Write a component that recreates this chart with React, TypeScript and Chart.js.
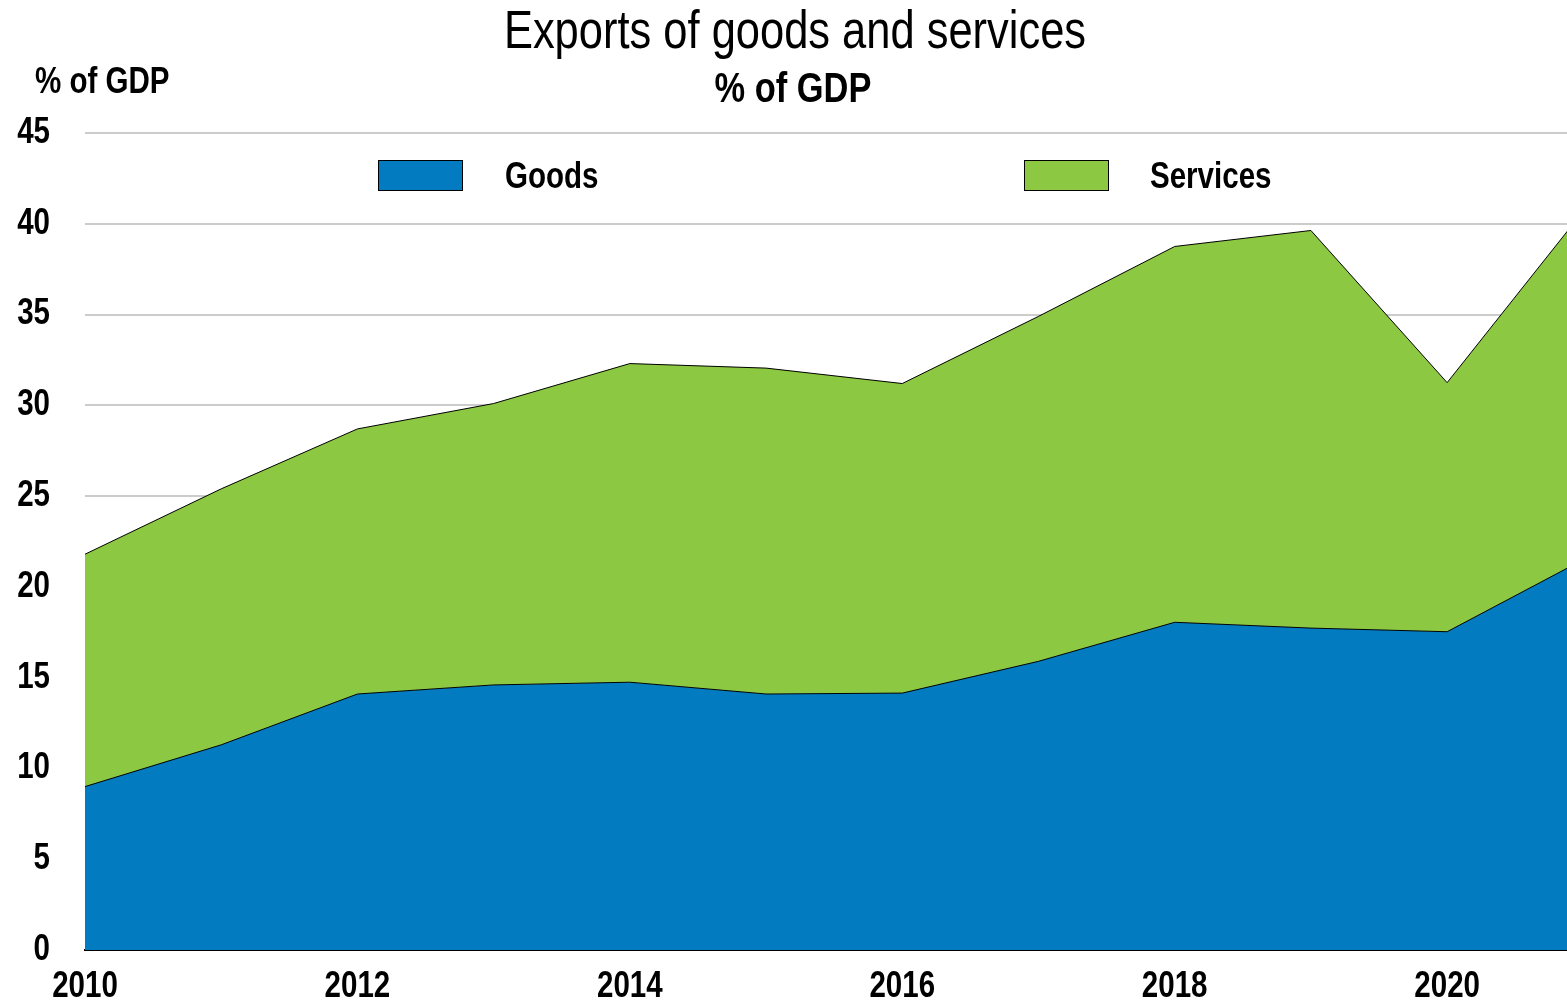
import React, { useEffect, useRef } from "react";
import { Chart, registerables } from "chart.js";

Chart.register(...registerables);

const years = [2010, 2011, 2012, 2013, 2014, 2015, 2016, 2017, 2018, 2019, 2020, 2021];
const goods = [9.0, 11.3, 14.1, 14.6, 14.75, 14.1, 14.15, 15.9, 18.05, 17.73, 17.53, 21.5];
const services = [12.8, 14.1, 14.6, 15.5, 17.55, 17.95, 17.05, 19.0, 20.7, 21.9, 13.72, 19.2];
const yTicks = [0, 5, 10, 15, 20, 25, 30, 35, 40, 45];
const xTickYears = [2010, 2012, 2014, 2016, 2018, 2020];
// visible x range: the 2021 point lies just beyond the right edge of the picture
const X_MIN = 2010;
const X_MAX = 2020.88;

const FONT = "'Liberation Sans', Arial, sans-serif";
const NARROW = 0.82;
const BLUE = "#037BC1";
const GREEN = "#8CC841";

function narrowText(ctx: CanvasRenderingContext2D, text: string, x: number, y: number, font: string, align: CanvasTextAlign, baseline: CanvasTextBaseline = "alphabetic") {
  ctx.save();
  ctx.translate(x, y);
  ctx.scale(NARROW, 1);
  ctx.font = font;
  ctx.textAlign = align;
  ctx.textBaseline = baseline;
  ctx.fillStyle = "#000";
  ctx.fillText(text, 0, 0);
  ctx.restore();
}

const decorPlugin = {
  id: "decor",
  afterDraw(chart: any) {
    const ctx = chart.ctx as CanvasRenderingContext2D;
    ctx.save();
    narrowText(ctx, "Exports of goods and services", 795, 48, `53px ${FONT}`, "center");
    narrowText(ctx, "% of GDP", 793, 102, `bold 42px ${FONT}`, "center");
    narrowText(ctx, "% of GDP", 35, 93, `bold 36px ${FONT}`, "left");

    const items = [
      { label: "Goods", color: BLUE, x: 378, tx: 505 },
      { label: "Services", color: GREEN, x: 1024, tx: 1150 },
    ];
    for (const it of items) {
      ctx.fillStyle = it.color;
      ctx.fillRect(it.x, 160, 84, 30);
      ctx.strokeStyle = "#000";
      ctx.lineWidth = 1;
      ctx.strokeRect(it.x + 0.5, 160.5, 84, 30);
      narrowText(ctx, it.label, it.tx, 178, `bold 36px ${FONT}`, "left", "middle");
    }

    const ys = chart.scales.y;
    for (const v of yTicks) {
      narrowText(ctx, String(v), ys.left + ys.width - 35, ys.getPixelForValue(v), `bold 36px ${FONT}`, "right", "middle");
    }
    const xs = chart.scales.x;
    for (const yr of xTickYears) {
      narrowText(ctx, String(yr), xs.getPixelForValue(yr), 997, `bold 36px ${FONT}`, "center");
    }
    ctx.restore();
  },
};

export default function App() {
  const ref = useRef<HTMLCanvasElement | null>(null);
  useEffect(() => {
    if (!ref.current) return;
    const chart = new Chart(ref.current, {
      type: "line",
      data: {
        datasets: [
          {
            label: "Goods",
            data: years.map((x, i) => ({ x, y: goods[i] })),
            backgroundColor: BLUE,
            borderColor: "#000",
            borderWidth: 1,
            fill: "origin",
            pointRadius: 0,
            tension: 0,
          },
          {
            label: "Services",
            data: years.map((x, i) => ({ x, y: services[i] })),
            backgroundColor: GREEN,
            borderColor: "#000",
            borderWidth: 1,
            fill: "-1",
            pointRadius: 0,
            tension: 0,
          },
        ],
      },
      options: {
        responsive: false,
        animation: false,
        layout: { padding: { top: 133, right: 0, left: 0, bottom: 0 } },
        plugins: {
          legend: { display: false },
          title: { display: false },
          tooltip: { enabled: false },
        },
        scales: {
          x: {
            type: "linear",
            min: X_MIN,
            max: X_MAX,
            offset: false,
            grid: { display: false, drawTicks: false },
            border: { display: true, color: "#000", width: 2 },
            ticks: { display: false },
            afterFit: (s: any) => { s.height = 53; s.paddingLeft = 0; s.paddingRight = 0; },
          },
          y: {
            stacked: true,
            min: 0,
            max: 45,
            afterBuildTicks: (s: any) => { s.ticks = yTicks.map((v) => ({ value: v })); },
            grid: { color: "#cccccc", lineWidth: 2, drawTicks: false },
            border: { display: false },
            ticks: { display: false },
            afterFit: (s: any) => { s.width = 85; s.paddingTop = 0; s.paddingBottom = 0; },
          },
        },
      },
      plugins: [decorPlugin],
    } as any);
    return () => chart.destroy();
  }, []);
  return (
    <div style={{ position: "absolute", left: 0, top: 0, width: 1567, height: 1003, background: "#fff" }}>
      <canvas ref={ref} width={1567} height={1003} />
    </div>
  );
}
